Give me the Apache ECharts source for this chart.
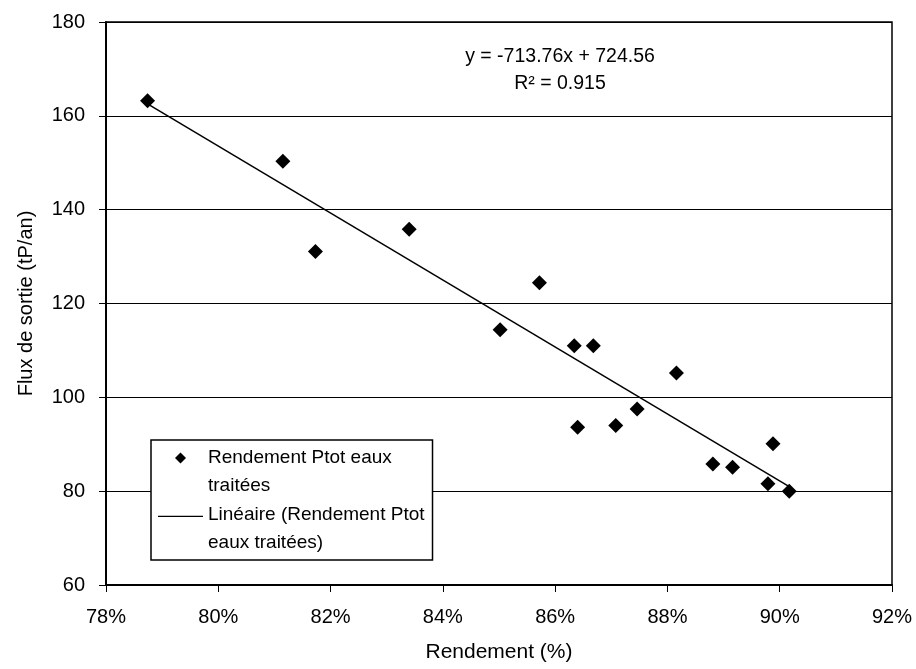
<!DOCTYPE html>
<html>
<head>
<meta charset="utf-8">
<script src="https://cdn.jsdelivr.net/npm/echarts@6/dist/echarts.min.js"></script>
<style>
html,body{margin:0;padding:0;background:#fff;}
#chart{width:916px;height:669px;}
</style>
</head>
<body>
<div id="chart"></div>
<script>
// Rendement (%) values
var rendement = [78.74, 81.15, 81.73, 83.40, 85.72, 85.02, 86.34, 86.68, 88.16, 86.40, 87.08, 87.46, 88.81, 89.16, 89.88, 89.79, 90.17];
// Flux de sortie (tP/an)
var flux = [163.2, 150.3, 131.1, 135.8, 124.4, 114.4, 111.0, 111.0, 105.2, 93.6, 94.0, 97.5, 85.8, 85.1, 90.1, 81.6, 80.0];
// Trendline coefficients as displayed on the chart (x as fraction)
var slope = -713.76;
var intercept = 724.56;
var r2 = 0.915;
var xTicks = {min: 78, max: 92, interval: 2};
var yTicks = {min: 60, max: 180, interval: 20};
var seriesName = 'Rendement Ptot eaux\ntraitées';
var trendName = 'Linéaire (Rendement Ptot\neaux traitées)';

var points = rendement.map(function (x, i) { return [x, flux[i]]; });
var xMin = Math.min.apply(null, rendement);
var xMax = Math.max.apply(null, rendement);
var trend = [[xMin, slope * xMin / 100 + intercept], [xMax, slope * xMax / 100 + intercept]];

var font = 'Liberation Sans, Arial, sans-serif';
// legend icons: 45x39 box, glyph placed on the first text line
var diamondIcon = 'path://M0,0 M45,39 M22.5,0 L28,5.5 L22.5,11 L17,5.5 Z';
var lineIcon = 'path://M0,0 M50,39 M0,4.8 L50,4.8 L50,6.2 L0,6.2 Z';
var chart = echarts.init(document.getElementById('chart'));
chart.setOption({
  animation: false,
  grid: {left: 106, right: 24, top: 22, bottom: 84, show: true, borderColor: '#000', borderWidth: 1.5, backgroundColor: 'transparent'},
  xAxis: {
    type: 'value', min: xTicks.min, max: xTicks.max, interval: xTicks.interval,
    name: 'Rendement (%)', nameLocation: 'middle', nameGap: 57,
    nameTextStyle: {fontFamily: font, fontSize: 21, color: '#000'},
    axisLine: {lineStyle: {color: '#000', width: 2}},
    axisTick: {show: true, inside: false, length: 7, lineStyle: {color: '#000', width: 1}},
    axisLabel: {fontFamily: font, fontSize: 20, color: '#000', margin: 22, formatter: '{value}%'},
    splitLine: {show: false}
  },
  yAxis: {
    type: 'value', min: yTicks.min, max: yTicks.max, interval: yTicks.interval,
    name: 'Flux de sortie (tP/an)', nameLocation: 'middle', nameGap: 70, nameRotate: 90,
    nameTextStyle: {fontFamily: font, fontSize: 20, color: '#000'},
    axisLine: {show: true, lineStyle: {color: '#000', width: 2}},
    axisTick: {show: true, inside: false, length: 7, lineStyle: {color: '#000', width: 1}},
    axisLabel: {fontFamily: font, fontSize: 20, color: '#000', margin: 21},
    splitLine: {show: true, lineStyle: {color: '#000', width: 1}}
  },
  legend: {
    orient: 'vertical', left: 151, top: 440,
    backgroundColor: '#fff', borderColor: '#000', borderWidth: 1.5,
    padding: [4, 8, 3, 7], itemGap: 1, itemWidth: 45, itemHeight: 39,
    textStyle: {fontFamily: font, fontSize: 19, color: '#000', lineHeight: 28},
    data: [
      {name: seriesName, icon: diamondIcon},
      {name: trendName, icon: lineIcon, itemStyle: {color: '#000'}}
    ]
  },
  graphic: [
    {type: 'text', style: {text: 'y = -713.76x + 724.56', font: '19.5px ' + font, fill: '#000', align: 'center', verticalAlign: 'middle', x: 560, y: 57}},
    {type: 'text', style: {text: 'R\u00b2 = ' + r2, font: '19.5px ' + font, fill: '#000', align: 'center', verticalAlign: 'middle', x: 560, y: 84}}
  ],
  series: [
    {name: seriesName, type: 'scatter', data: points, symbol: 'diamond', symbolSize: 15, itemStyle: {color: '#000', opacity: 1}, z: 3},
    {name: trendName, type: 'line', data: trend, symbol: 'none', itemStyle: {color: '#000'}, lineStyle: {color: '#000', width: 1.5}, z: 2}
  ]
});
</script>
</body>
</html>
